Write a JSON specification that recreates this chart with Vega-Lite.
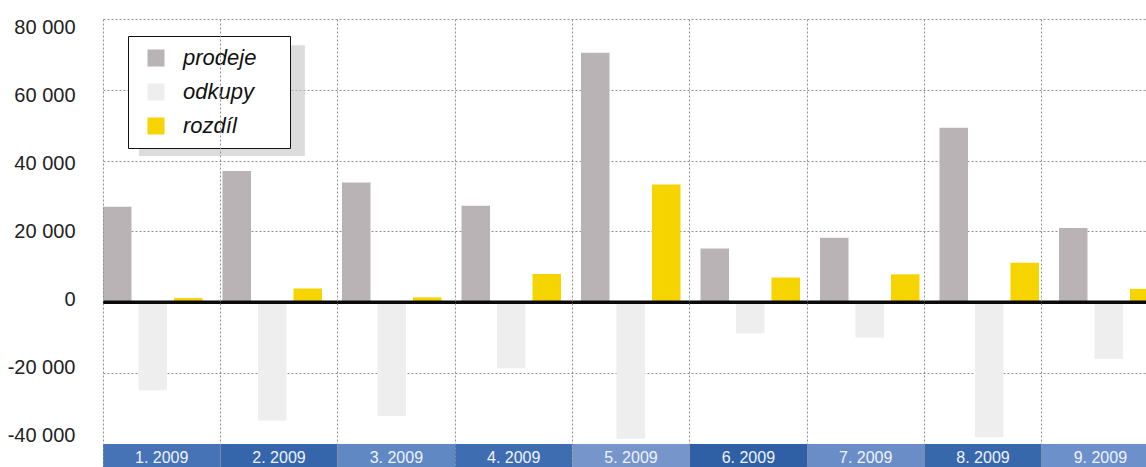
{
  "$schema": "https://vega.github.io/schema/vega-lite/v6.json",
  "width": 1043,
  "height": 448,
  "autosize": {"type": "none"},
  "padding": {"left": 103, "top": 19, "right": 0, "bottom": 0},
  "background": "white",
  "config": {"view": {"stroke": null}, "font": "Liberation Sans"},
  "datasets": {
    "monthly": [
      {"month": "1. 2009", "prodeje": 27000, "odkupy": -24800, "rozdíl": 1200},
      {"month": "2. 2009", "prodeje": 37100, "odkupy": -33400, "rozdíl": 3900},
      {"month": "3. 2009", "prodeje": 33800, "odkupy": -32100, "rozdíl": 1400},
      {"month": "4. 2009", "prodeje": 27300, "odkupy": -18600, "rozdíl": 8000},
      {"month": "5. 2009", "prodeje": 70500, "odkupy": -38500, "rozdíl": 33300},
      {"month": "6. 2009", "prodeje": 15200, "odkupy": -8800, "rozdíl": 7000},
      {"month": "7. 2009", "prodeje": 18200, "odkupy": -10000, "rozdíl": 7900},
      {"month": "8. 2009", "prodeje": 49300, "odkupy": -38000, "rozdíl": 11200},
      {"month": "9. 2009", "prodeje": 21000, "odkupy": -16000, "rozdíl": 3800}
    ]
  },
  "layer": [
    {
      "data": {"name": "monthly"},
      "encoding": {
        "x": {
          "field": "month",
          "type": "ordinal",
          "sort": null,
          "scale": {"range": [0, 1056], "paddingInner": 0, "paddingOuter": 0},
          "axis": {
            "grid": true,
            "bandPosition": 0,
            "gridColor": "#8f8f8f",
            "gridDash": [2, 2],
            "gridWidth": 1,
            "labels": false,
            "ticks": false,
            "domain": false,
            "title": null
          }
        }
      },
      "layer": [
        {
          "mark": {"type": "rect"},
          "encoding": {
            "y": {
              "datum": -40000,
              "type": "quantitative",
              "scale": {"domain": [-46500, 80000], "nice": false, "zero": false},
              "axis": null
            },
            "y2": {"datum": -46500},
            "fill": {
              "field": "month",
              "type": "nominal",
              "sort": null,
              "scale": {"range": ["#4573b6", "#3565aa", "#6088c3", "#3f6db1", "#7595cb", "#2f60a6", "#6a8dc7", "#3868ac", "#6c90ca"]},
              "legend": null
            }
          }
        },
        {
          "mark": {"type": "text", "color": "#eef2fa", "fontSize": 16, "baseline": "middle", "align": "center"},
          "encoding": {
            "y": {"datum": -44000, "type": "quantitative", "axis": null},
            "text": {"field": "month"}
          }
        },
        {
          "data": {"values": [{}]},
          "mark": {"type": "rect", "color": "#c4c4c4", "opacity": 0.6},
          "encoding": {
            "x": {"datum": "1. 2009", "type": "ordinal", "bandPosition": 0.307},
            "x2": {"datum": "2. 2009", "bandPosition": 0.72},
            "y": {"datum": 72600, "type": "quantitative", "axis": null},
            "y2": {"datum": 41300}
          }
        }
      ]
    },
    {
      "data": {"name": "monthly"},
      "transform": [{"fold": ["prodeje", "odkupy", "rozdíl"], "as": ["series", "value"]}],
      "mark": {"type": "bar"},
      "encoding": {
        "x": {
          "field": "month",
          "type": "ordinal",
          "sort": null,
          "scale": {"range": [0, 1075.5], "paddingInner": 0, "paddingOuter": 0},
          "axis": null
        },
        "xOffset": {
          "field": "series",
          "sort": ["prodeje", "odkupy", "rozdíl"],
          "scale": {"paddingInner": 0.197, "paddingOuter": 0.282, "align": 0}
        },
        "y": {
          "field": "value",
          "type": "quantitative",
          "stack": null,
          "scale": {"domain": [-46500, 80000], "nice": false, "zero": false},
          "axis": null
        },
        "color": {
          "field": "series",
          "type": "nominal",
          "sort": ["prodeje", "odkupy", "rozdíl"],
          "scale": {"domain": ["prodeje", "odkupy", "rozdíl"], "range": ["#bab3b5", "#eeeeee", "#f6d400"]},
          "legend": {
            "orient": "none",
            "legendX": 25,
            "legendY": 17,
            "title": null,
            "symbolType": "square",
            "symbolSize": 289,
            "symbolStrokeWidth": 0,
            "symbolOffset": 6,
            "labelOffset": 16,
            "labelFontSize": 22,
            "labelFontStyle": "italic",
            "labelFont": "Liberation Sans",
            "labelColor": "#111",
            "labelExpr": "datum.label + '\u00a0\u2800'",
            "rowPadding": 12,
            "padding": 11,
            "fillColor": "white",
            "strokeColor": "#111"
          }
        }
      }
    },
    {
      "data": {"values": [{}]},
      "mark": {"type": "rule", "color": "#0a0a0a", "strokeWidth": 3.5},
      "encoding": {
        "y": {
          "datum": 0,
          "type": "quantitative",
          "scale": {"domain": [-46500, 80000], "nice": false, "zero": false},
          "axis": {
            "grid": true,
            "gridColor": "#8f8f8f",
            "gridDash": [2, 2],
            "gridWidth": 1,
            "labels": false,
            "ticks": false,
            "domain": false,
            "title": null,
            "values": [-40000, -20000, 0, 20000, 40000, 60000, 80000]
          }
        }
      }
    },
    {
      "data": {"values": [{}]},
      "mark": {"type": "rule", "opacity": 0},
      "encoding": {
        "y": {
          "datum": 0,
          "type": "quantitative",
          "scale": {"domain": [-49430, 82650], "nice": false, "zero": false},
          "axis": {
            "orient": "left",
            "values": [-40000, -20000, 0, 20000, 40000, 60000, 80000],
            "grid": false,
            "ticks": false,
            "tickSize": 0,
            "domain": false,
            "labelPadding": 28,
            "labelFontSize": 20,
            "labelFont": "Liberation Sans",
            "labelColor": "#222",
            "labelExpr": "(datum.value < 0 ? '-' : '') + replace(format(abs(datum.value), ','), ',', ' ')",
            "title": null
          }
        }
      }
    }
  ],
  "resolve": {"scale": {"x": "independent", "y": "independent"}}
}
